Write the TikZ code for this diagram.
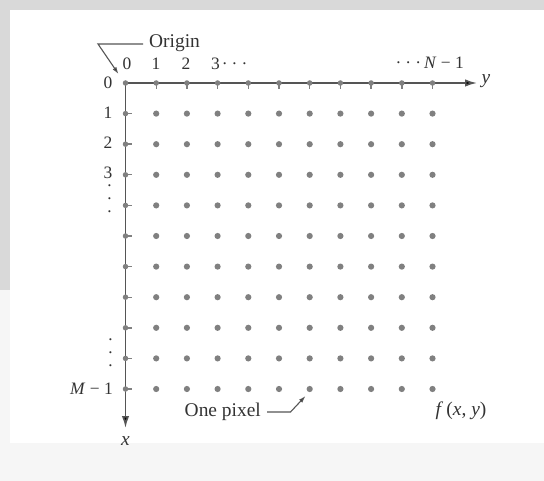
\documentclass[tikz,border=0pt]{standalone}
\usepackage{fontspec}
\setmainfont{Liberation Serif}
\usetikzlibrary{arrows.meta}
\definecolor{bggray}{HTML}{D9D9D9}
\definecolor{bglight}{HTML}{F6F6F6}
\definecolor{dotgray}{HTML}{808080}
\definecolor{axisgray}{HTML}{555555}
\definecolor{txt}{HTML}{333333}
\begin{document}
\begin{tikzpicture}[x=1bp,y=-1bp,
  pix/.style={circle,fill=dotgray,inner sep=0pt,minimum size=6.2bp},
  axdot/.style={circle,fill=dotgray,inner sep=0pt,minimum size=5.5bp},
  tick/.style={draw=dotgray,line width=1.4bp},
  axis/.style={draw=axisgray,line width=1.7bp,-{Latex[length=12bp,width=7.5bp,fill=black]}},
  leader/.style={draw=axisgray,line width=1.1bp},
  leadarrow/.style={leader,-{Latex[length=7bp,width=4.5bp,fill=black]}},
  lbl/.style={text=txt,inner sep=0pt,font=\fontsize{17.5}{20}\selectfont},
  wlbl/.style={text=txt,inner sep=0pt,font=\fontsize{19.5}{22}\selectfont},
  vdots/.style={text=txt,inner sep=0pt,align=center,font=\fontsize{17.5}{13}\selectfont}]
\useasboundingbox (0,0) rectangle (544,481);
% background
\fill[bglight] (0,0) rectangle (544,481);
\fill[bggray] (0,0) rectangle (544,10);
\fill[bggray] (0,0) rectangle (10,290);
\fill[white] (10,10) rectangle (544,443);
% grid of pixels
\foreach \i in {1,...,10}
  \foreach \j in {1,...,10}
    \node[pix] (p\i-\j) at ({125.5+30.7*\j},{83+30.6*\i}) {};
% axes
\coordinate (O) at (125.5,83);
\coordinate (yend) at (477,83);
\coordinate (xend) at (125.5,428);
\draw[axis] (O) -- (yend);
\draw[axis] (O) -- (xend);
% dots and ticks on axes
\foreach \j in {0,...,10}{
  \node[axdot] (t\j) at ({125.5+30.7*\j},83) {};
}
\foreach \j in {1,...,10}{
  \draw[tick] (t\j.center) -- ++(0,6.5);
}
\foreach \i in {1,...,10}{
  \node[axdot] (l\i) at (125.5,{83+30.6*\i}) {};
  \draw[tick] (l\i.center) -- ++(6.5,0);
}
% axis labels
\node[wlbl] (ylab) at (486,81) {\textit{y}};
\node[wlbl] (xlab) at (125.5,441) {\textit{x}};
% top labels
\node[lbl] (c0) at (127,64) {0};
\node[lbl] (c1) at (156,64) {1};
\node[lbl] (c2) at (186,64) {2};
\node[lbl,anchor=west] (c3) at (211,64) {3\hspace{2bp}·\hspace{4bp}·\hspace{4bp}·};
\node[lbl,anchor=east] (cN) at (464,63) {·\hspace{4bp}·\hspace{4bp}·\hspace{3bp}\textit{N} − 1};
% left labels
\node[lbl] (r0) at (108,83) {0};
\node[lbl] (r1) at (108,113) {1};
\node[lbl] (r2) at (108,143) {2};
\node[lbl] (r3) at (108,173) {3};
\node[vdots] (va) at (109.5,201) {·\\·\\·};
\node[vdots] (vb) at (110.5,355) {·\\·\\·};
\node[lbl,anchor=east] (rM) at (113,389) {\textit{M} − 1};
% Origin label
\node[wlbl,anchor=west] (orig) at (149,43) {Origin};
\coordinate (o0) at (143,44);
\coordinate (o1) at (98,44);
\draw[leadarrow] (o0) -- (o1) -- (118.5,74);
% One pixel label
\node[wlbl,anchor=east] (onepix) at (261,412) {One pixel};
\coordinate (op1) at (290.5,412);
\draw[leadarrow] ([xshift=6bp]onepix.east) -- (op1) -- (305.5,396);
% f(x,y)
\node[wlbl] (fxy) at (461,411) {\textit{f}\,(\textit{x}, \textit{y})};
\end{tikzpicture}
\end{document}
